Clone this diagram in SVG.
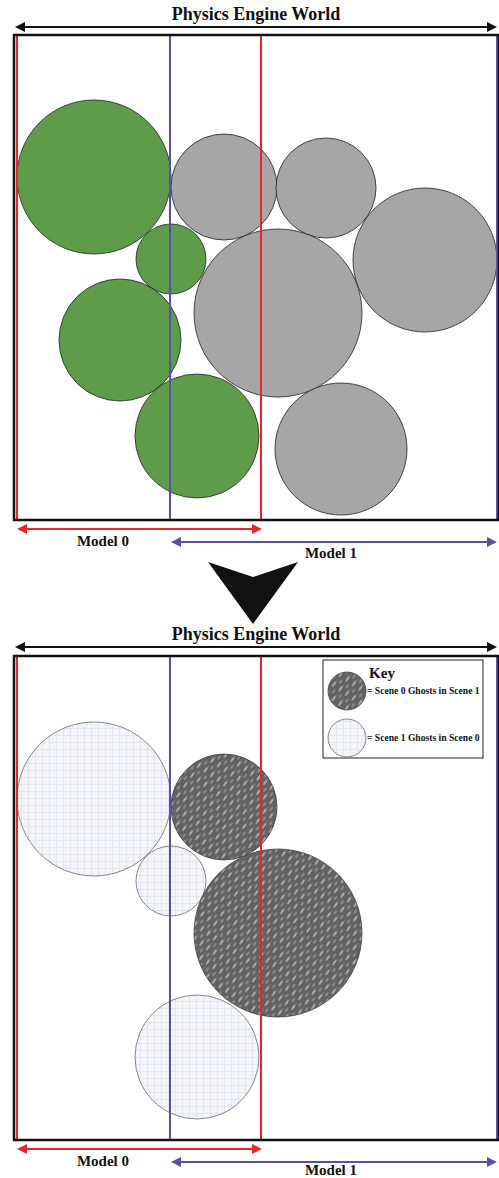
<svg xmlns="http://www.w3.org/2000/svg" width="499" height="1178" viewBox="0 0 499 1178">
<defs>
<style>
.ttl{font-family:"Liberation Serif",serif;font-weight:bold;font-size:18px;fill:#111;text-anchor:middle}
.lbl{font-family:"Liberation Serif",serif;font-weight:bold;font-size:15px;fill:#111;text-anchor:middle}
.key{font-family:"Liberation Serif",serif;font-weight:bold;font-size:9.6px;fill:#111}
.frame{fill:none;stroke:#111;stroke-width:2.5}
.red{stroke:#e8262a;stroke-width:2}
.blue{stroke:#5b4fa3;stroke-width:2}
.green{fill:#5e9c4c;stroke:#222;stroke-width:0.8}
.gray{fill:#a6a6a6;stroke:#222;stroke-width:0.8}
.ghost1{fill:url(#grid);stroke:#555;stroke-width:0.7}
.ghost0{fill:url(#streak);stroke:#333;stroke-width:0.7}
</style>
<marker id="ab" viewBox="0 0 10 10" refX="8" refY="5" markerWidth="5" markerHeight="5" orient="auto-start-reverse"><path d="M0,0 L10,5 L0,10 z" fill="#111"/></marker>
<marker id="ar" viewBox="0 0 10 10" refX="8" refY="5" markerWidth="5" markerHeight="5" orient="auto-start-reverse"><path d="M0,0 L10,5 L0,10 z" fill="#e8262a"/></marker>
<marker id="au" viewBox="0 0 10 10" refX="8" refY="5" markerWidth="5" markerHeight="5" orient="auto-start-reverse"><path d="M0,0 L10,5 L0,10 z" fill="#5b4fa3"/></marker>
<pattern id="grid" width="7" height="7" patternUnits="userSpaceOnUse">
<rect width="7" height="7" fill="#f4f5f8"/>
<path d="M0,0.5 H7 M0.5,0 V7" stroke="#d3dbec" stroke-width="0.6"/>
</pattern>
<pattern id="streak" width="12" height="8" patternUnits="userSpaceOnUse" patternTransform="rotate(-55)">
<rect width="12" height="8" fill="#626262"/>
<ellipse cx="3" cy="2" rx="3.5" ry="1" fill="#b0b0b0"/>
<ellipse cx="9" cy="6" rx="2.5" ry="0.9" fill="#909090"/>
<ellipse cx="8" cy="2.5" rx="1.5" ry="0.5" fill="#7a7a7a"/>
</pattern>
</defs>

<!-- Top panel -->
<g id="top-title"><text class="ttl" x="256" y="20">Physics Engine World</text></g>
<g id="connectors-top">
<line x1="17" y1="27" x2="495" y2="27" stroke="#111" stroke-width="2" marker-start="url(#ab)" marker-end="url(#ab)"/>
<line x1="19" y1="529" x2="260" y2="529" class="red" marker-start="url(#ar)" marker-end="url(#ar)"/>
<line x1="173" y1="542" x2="495" y2="542" class="blue" marker-start="url(#au)" marker-end="url(#au)"/>
</g>
<g id="top-world">
<g id="top-circles">
<circle class="green" cx="94" cy="177" r="77"/>
<circle class="gray" cx="224" cy="187" r="53"/>
<circle class="gray" cx="326" cy="188" r="50"/>
<circle class="gray" cx="425" cy="260" r="72"/>
<circle class="gray" cx="278" cy="313" r="84"/>
<circle class="green" cx="171" cy="259" r="35"/>
<circle class="green" cx="120" cy="340" r="61"/>
<circle class="green" cx="197" cy="436" r="62"/>
<circle class="gray" cx="341" cy="449" r="66"/>
</g>
<line class="red" x1="17" y1="35" x2="17" y2="520"/>
<line class="blue" x1="170" y1="35" x2="170" y2="520"/>
<line class="red" x1="261" y1="35" x2="261" y2="520"/>
<line class="blue" x1="497" y1="35" x2="497" y2="520"/>
<rect class="frame" x="14" y="35" width="485" height="485"/>
</g>
<g id="top-labels">
<text class="lbl" x="103" y="546">Model 0</text>
<text class="lbl" x="331" y="558">Model 1</text>
</g>

<g id="down-arrow"><polygon points="208,562 253,577 298,562 253,624" fill="#111"/></g>

<!-- Bottom panel -->
<g id="bottom-title"><text class="ttl" x="256" y="640">Physics Engine World</text></g>
<g id="connectors-bottom">
<line x1="17" y1="647" x2="495" y2="647" stroke="#111" stroke-width="2" marker-start="url(#ab)" marker-end="url(#ab)"/>
<line x1="19" y1="1149" x2="260" y2="1149" class="red" marker-start="url(#ar)" marker-end="url(#ar)"/>
<line x1="173" y1="1162" x2="495" y2="1162" class="blue" marker-start="url(#au)" marker-end="url(#au)"/>
</g>
<g id="bottom-world">
<g id="bottom-circles">
<circle class="ghost1" cx="94" cy="799" r="77"/>
<circle class="ghost0" cx="224" cy="807" r="53"/>
<circle class="ghost1" cx="171" cy="881" r="35"/>
<circle class="ghost0" cx="278" cy="933" r="84"/>
<circle class="ghost1" cx="197" cy="1057" r="62"/>
</g>
<line class="red" x1="17" y1="656" x2="17" y2="1140"/>
<line class="blue" x1="170" y1="656" x2="170" y2="1140"/>
<line class="red" x1="261" y1="656" x2="261" y2="1140"/>
<line class="blue" x1="497" y1="656" x2="497" y2="1140"/>
<rect class="frame" x="14" y="656" width="485" height="484"/>
</g>
<g id="key">
<rect x="323" y="660" width="160" height="98" fill="#fff" stroke="#222" stroke-width="1"/>
<text x="382" y="678" style="font-family:'Liberation Serif',serif;font-weight:bold;font-size:15px;fill:#111;text-anchor:middle">Key</text>
<circle class="ghost0" cx="347" cy="691" r="19"/>
<text class="key" x="367" y="694">= Scene 0 Ghosts in Scene 1</text>
<circle class="ghost1" cx="347" cy="738" r="19"/>
<text class="key" x="367" y="741">= Scene 1 Ghosts in Scene 0</text>
</g>
<g id="bottom-labels">
<text class="lbl" x="103" y="1166">Model 0</text>
<text class="lbl" x="331" y="1175">Model 1</text>
</g>
</svg>
